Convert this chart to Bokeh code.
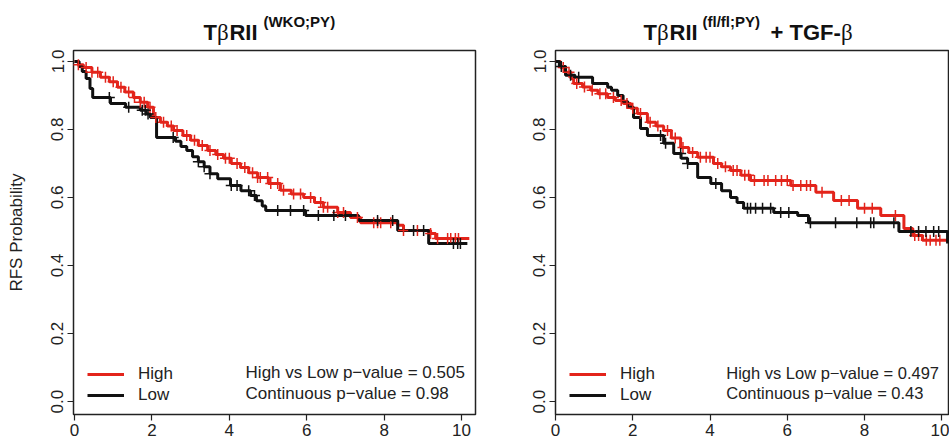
import numpy as np
from bokeh.plotting import figure
from bokeh.models import Range1d, FixedTicker, PrintfTickFormatter, Label, Legend, LegendItem
from bokeh.layouts import row, column
from bokeh.core.properties import value
from bokeh.embed import file_html
from bokeh.resources import INLINE

# ---------------- data ----------------
x_ticks = [0, 2, 4, 6, 8, 10]
y_ticks = [0.0, 0.2, 0.4, 0.6, 0.8, 1.0]

# Left panel: TbRII (WKO;PY)
L_high_t = [0, 0.1, 0.23, 0.45, 0.67, 0.9, 1.11, 1.3, 1.52, 1.7, 1.89, 2.04, 2.22, 2.4, 2.56, 2.8, 3.0,
            3.2, 3.44, 3.65, 3.85, 4.05, 4.29, 4.5, 4.73, 5.01, 5.32, 5.6, 5.92, 6.2, 6.43, 6.8, 7.13,
            7.39, 8.35, 8.5, 9.2, 9.33, 10.2]
L_high_s = [1.0, 0.99, 0.982, 0.968, 0.953, 0.94, 0.924, 0.91, 0.894, 0.88, 0.865, 0.835, 0.821, 0.81,
            0.797, 0.782, 0.768, 0.753, 0.738, 0.726, 0.715, 0.70, 0.688, 0.673, 0.659, 0.641, 0.621,
            0.61, 0.60, 0.585, 0.571, 0.556, 0.541, 0.526, 0.518, 0.503, 0.494, 0.479, 0.479]
L_high_cens = [0.1, 0.3, 0.45, 0.6, 0.8, 1.0, 1.2, 1.4, 1.55, 1.7, 1.8, 1.95, 2.1, 2.3, 2.5, 2.65, 2.9,
               3.1, 3.3, 3.5, 3.7, 3.9, 4.0, 4.2, 4.4, 4.6, 4.73, 4.8, 4.99, 5.07, 5.25, 5.4, 5.66,
               5.84, 6.1, 6.36, 6.43, 6.54, 6.8, 6.95, 7.31, 7.73, 7.83, 7.91, 8.17, 8.5, 8.86, 9.2,
               9.38, 9.64, 9.72, 9.84, 9.92]

L_low_t = [0, 0.12, 0.2, 0.3, 0.4, 0.47, 0.93, 1.32, 1.7, 1.85, 1.96, 2.12, 2.61, 2.75, 2.9, 3.05, 3.2,
           3.35, 3.5, 3.7, 4.03, 4.3, 4.55, 4.7, 4.85, 4.94, 5.97, 7.34, 8.35, 9.15, 10.15]
L_low_s = [1.0, 0.985, 0.97, 0.95, 0.92, 0.894, 0.876, 0.865, 0.856, 0.845, 0.835, 0.776, 0.765, 0.75,
           0.738, 0.72, 0.705, 0.69, 0.67, 0.655, 0.635, 0.62, 0.606, 0.59, 0.575, 0.562, 0.547, 0.532,
           0.503, 0.465, 0.465]
L_low_cens = [0.9, 1.4, 1.75, 1.83, 1.9, 2.55, 3.2, 3.35, 3.5, 4.05, 4.2, 4.5, 4.65, 5.25, 5.58, 5.92,
              6.3, 6.7, 7.0, 7.83, 8.22, 8.76, 9.02, 9.79, 9.9, 9.97]

# Right panel: TbRII (fl/fl;PY) + TGF-b
R_high_t = [0, 0.13, 0.26, 0.4, 0.47, 0.7, 0.91, 1.1, 1.35, 1.55, 1.76, 1.95, 2.12, 2.38, 2.6, 2.8, 3.0,
            3.24, 3.45, 3.68, 4.09, 4.3, 4.53, 4.8, 5.05, 6.09, 6.74, 7.2, 7.82, 8.42, 9.02, 9.25, 9.5,
            10.15]
R_high_s = [1.0, 0.982, 0.968, 0.95, 0.935, 0.925, 0.915, 0.905, 0.894, 0.885, 0.876, 0.862, 0.847,
            0.821, 0.81, 0.797, 0.775, 0.747, 0.732, 0.718, 0.70, 0.69, 0.679, 0.665, 0.65, 0.635, 0.615,
            0.591, 0.568, 0.547, 0.509, 0.488, 0.474, 0.474]
R_high_cens = [0.2, 0.35, 0.55, 0.75, 0.95, 1.15, 1.3, 1.5, 1.7, 1.85, 2.0, 2.2, 2.45, 2.65, 2.9, 3.1,
               3.3, 3.55, 3.75, 3.9, 4.0, 4.2, 4.4, 4.6, 4.7, 4.9, 5.0, 5.15, 5.4, 5.5, 5.7, 5.85, 6.0,
               6.15, 6.35, 6.5, 6.6, 6.9, 7.4, 7.6, 8.0, 8.2, 8.8, 9.3, 9.4, 9.6, 9.7, 9.85, 9.95]

R_low_t = [0, 0.1, 0.26, 0.5, 0.96, 1.35, 1.45, 1.61, 1.75, 1.87, 2.02, 2.2, 2.38, 2.8, 3.06, 3.25, 3.42,
           3.68, 4.02, 4.3, 4.53, 4.7, 4.87, 5.65, 6.27, 6.55, 8.89, 10.15]
R_low_s = [1.0, 0.985, 0.959, 0.953, 0.935, 0.924, 0.915, 0.90, 0.882, 0.865, 0.835, 0.803, 0.782, 0.759,
           0.729, 0.715, 0.70, 0.659, 0.641, 0.62, 0.60, 0.585, 0.568, 0.556, 0.547, 0.526, 0.50, 0.465]
R_low_cens = [0.15, 0.39, 0.6, 2.72, 2.85, 3.24, 3.42, 4.15, 4.97, 5.05, 5.18, 5.36, 5.57, 5.83, 6.04,
              6.6, 7.25, 7.8, 8.16, 8.24, 8.76, 9.2, 9.4, 9.59, 9.79, 9.92]

left_title = ["T", "\u03b2", "RII", "(WKO;PY)"]
left_title_x = [3.332, 3.681, 4.004, 4.882]
right_title = ["T", "\u03b2", "RII", "(fl/fl;PY)", "+ TGF-", "\u03b2"]
right_title_x = [2.278, 2.627, 2.951, 3.805, 5.566, 7.39]
left_pvals = ["High vs Low p\u2212value = 0.505", "Continuous  p\u2212value = 0.98"]
right_pvals = ["High vs Low p\u2212value = 0.497", "Continuous  p\u2212value = 0.43"]
legend_labels = ["High", "Low"]

RED = "#e3241b"
BLACK = "#111111"
TXT = "#222222"
FONT = "Liberation Sans"
SERIF = "Liberation Serif"
YR = (-0.038, 1.032)
TITLE_H = 46


def step_value(ts, ss, t):
    i = np.searchsorted(np.asarray(ts), t, side="right") - 1
    return np.asarray(ss)[i]


def title_fig(width, bl, br, xr, parts, xs):
    t = figure(width=width, height=TITLE_H, output_backend="svg", toolbar_location=None,
               x_range=Range1d(*xr), y_range=Range1d(0, TITLE_H), x_axis_type=None, y_axis_type=None,
               min_border_left=bl, min_border_right=br, min_border_top=0, min_border_bottom=0)
    t.outline_line_color = None
    t.xgrid.visible = False
    t.ygrid.visible = False
    for txt, x in zip(parts, xs):
        if txt == "\u03b2":
            font, size, style, y = SERIF, "23px", "normal", 14
        elif txt.startswith("("):
            font, size, style, y = FONT, "15px", "bold", 25
        else:
            font, size, style, y = FONT, "22px", "bold", 14
        t.text(x=[x], y=[y], text=[txt], text_font=value(font), text_font_size=size,
               text_font_style=style, text_color="#111111", text_baseline="alphabetic")
    return t


def panel(width, bl, br, xr, high_t, high_s, high_c, low_t, low_s, low_c, pvals, pfont, ylabel):
    p = figure(width=width, height=396, output_backend="svg", toolbar_location=None,
               x_range=Range1d(*xr), y_range=Range1d(*YR),
               min_border_left=bl, min_border_right=br, min_border_top=4, min_border_bottom=28)
    p.background_fill_color = "white"
    p.border_fill_color = "white"
    p.outline_line_color = "#222222"
    p.outline_line_width = 1.5
    p.xgrid.visible = False
    p.ygrid.visible = False

    for ax in (p.xaxis[0], p.yaxis[0]):
        ax.axis_line_color = None
        ax.major_tick_line_color = "#222222"
        ax.major_tick_line_width = 1.2
        ax.major_tick_in = 0
        ax.major_tick_out = 6
        ax.minor_tick_line_color = None
        ax.major_label_text_font = FONT
        ax.major_label_text_font_size = "17px"
        ax.major_label_text_color = TXT
    p.xaxis.ticker = FixedTicker(ticks=x_ticks)
    p.xaxis.major_label_standoff = 3
    p.yaxis.ticker = FixedTicker(ticks=y_ticks)
    p.yaxis.formatter = PrintfTickFormatter(format="%.1f")
    p.yaxis.major_label_orientation = "vertical"
    p.yaxis.major_label_standoff = 4
    if ylabel:
        p.yaxis.axis_label = ylabel
        p.yaxis.axis_label_text_font = FONT
        p.yaxis.axis_label_text_font_style = "normal"
        p.yaxis.axis_label_text_font_size = "17px"
        p.yaxis.axis_label_text_color = TXT
        p.yaxis.axis_label_standoff = 23

    r_high = p.step(high_t, high_s, mode="after", line_color=RED, line_width=3)
    r_low = p.step(low_t, low_s, mode="after", line_color=BLACK, line_width=3)
    p.scatter(high_c, [step_value(high_t, high_s, t) for t in high_c], marker="cross",
              size=11, line_color=RED, line_width=1.5)
    p.scatter(low_c, [step_value(low_t, low_s, t) for t in low_c], marker="cross",
              size=11, line_color=BLACK, line_width=1.5)

    leg = Legend(items=[LegendItem(label=legend_labels[0], renderers=[r_high]),
                        LegendItem(label=legend_labels[1], renderers=[r_low])],
                 location=(14, 9), orientation="vertical")
    leg.background_fill_alpha = 0
    leg.border_line_alpha = 0
    leg.padding = 0
    leg.margin = 0
    leg.spacing = 1
    leg.glyph_width = 37
    leg.glyph_height = 20
    leg.label_height = 20
    leg.label_standoff = 14
    leg.label_text_font = FONT
    leg.label_text_font_size = "17px"
    leg.label_text_color = TXT
    p.add_layout(leg)

    p.add_layout(Label(x=4.42, y=0.085, text=pvals[0], text_font=FONT, text_font_size=pfont,
                       text_color=TXT, text_baseline="middle"))
    p.add_layout(Label(x=4.42, y=0.024, text=pvals[1], text_font=FONT, text_font_size=pfont,
                       text_color=TXT, text_baseline="middle"))
    return p


XR1 = (-0.026, 10.36)
XR2 = (0.0, 10.2)

t1 = title_fig(485, 73, 10, XR1, left_title, left_title_x)
t2 = title_fig(464, 70, 0, XR2, right_title, right_title_x)

p1 = panel(485, 73, 10, XR1, L_high_t, L_high_s, L_high_cens, L_low_t, L_low_s, L_low_cens,
           left_pvals, "17px", "RFS Probability")
p2 = panel(464, 70, 0, XR2, R_high_t, R_high_s, R_high_cens, R_low_t, R_low_s, R_low_cens,
           right_pvals, "16.5px", None)

layout = column(row(t1, t2), row(p1, p2))
open("out.html", "w").write(file_html(layout, INLINE))
